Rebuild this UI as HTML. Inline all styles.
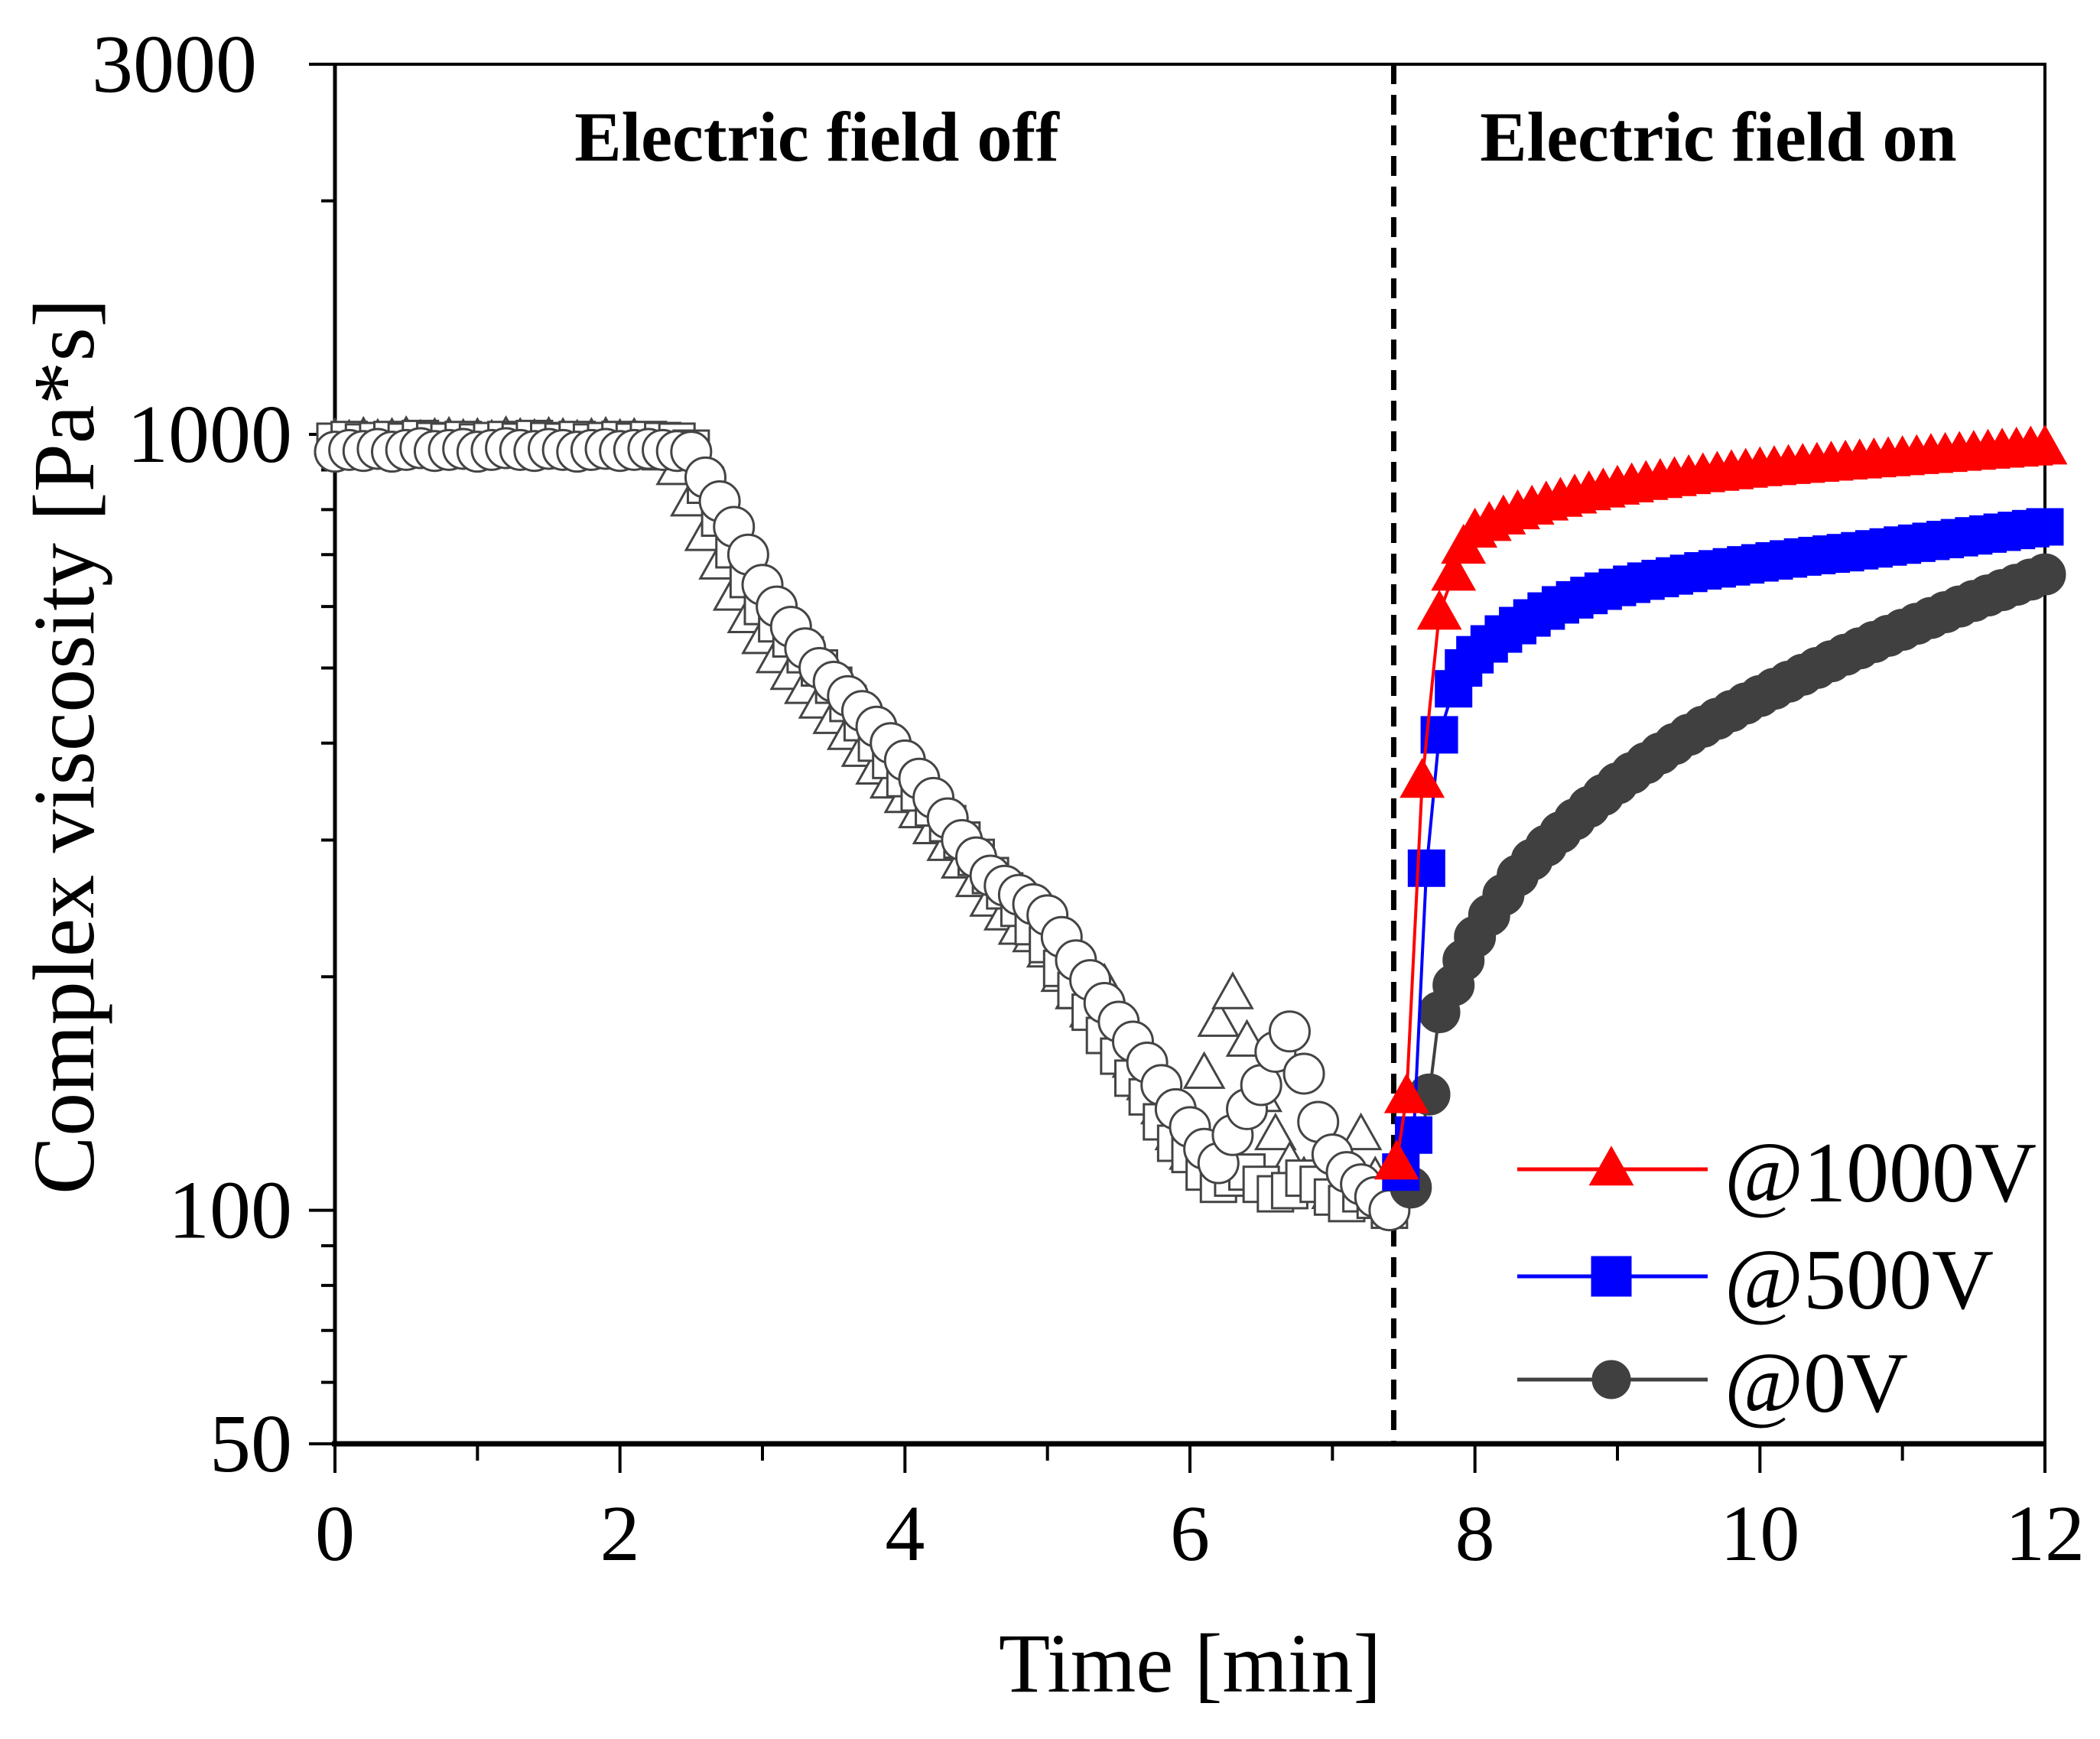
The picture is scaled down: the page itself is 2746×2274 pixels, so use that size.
<!DOCTYPE html>
<html><head><meta charset="utf-8"><style>
html,body{margin:0;padding:0;background:#fff}
svg{display:block}
text{font-family:"Liberation Serif",serif}
</style></head><body>
<svg id="chart" width="2746" height="2274" viewBox="0 0 2746 2274" xmlns="http://www.w3.org/2000/svg">
<rect width="2746" height="2274" fill="#fff"/>
<g id="axes"></g>
<g id="marks"></g>
<text x="1068" y="210" font-size="92" font-weight="bold" text-anchor="middle">Electric field off</text>
<text x="2247" y="210" font-size="92" font-weight="bold" text-anchor="middle">Electric field on</text>
<text x="1556" y="2212" font-size="110" text-anchor="middle">Time [min]</text>
<text x="0" y="0" font-size="114" text-anchor="middle" transform="translate(122,976) rotate(-90)">Complex viscosity [Pa*s]</text>
<g id="legend"></g>
</svg>
<script>
const offTimes = [];
for (let i = 0; i < 75; i++) offTimes.push(i / 10);
const offCircles = [950,955,952,958,950,955,960,952,955,958,950,955,960,955,952,958,955,950,955,958,952,955,958,955,952,
950,880,820,760,700,640,600,565,530,500,480,460,440,420,400,380,360,340,320,300,285,270,262,255,248,240,225,210,198,185,175,165,155,145,135,128,120,115,125,135,145,160,170,150,130,118,112,108,104,100];
const offTriangles = [985,980,988,982,985,990,980,985,988,982,985,980,990,985,982,988,985,980,985,988,982,985,975,940,900,
820,740,680,620,580,545,515,490,470,450,430,410,390,370,355,340,325,310,295,280,265,250,240,230,225,215,200,190,180,195,170,155,145,135,125,118,150,175,190,165,140,125,115,110,108,105,115,125,110,105];
const offSquares = [980,985,978,982,985,980,988,982,980,985,978,982,985,980,988,982,980,985,978,982,985,980,985,982,980,
960,860,780,710,650,600,570,545,520,500,475,450,425,400,380,360,345,330,315,300,285,270,258,245,232,220,205,192,180,168,158,148,140,130,122,118,112,108,110,112,108,105,106,110,108,104,102,105,103,100];

const onGrid = [];
for (let i = 0; i <= 40; i++) onGrid.push(8 + i / 10);
const redTimes = [7.45,7.52,7.63,7.75,7.85,7.92].concat(onGrid);
const redValues = [115,140,357,588,660,715,
750,765,780,792,803,813,822,830,838,845,852,858,864,869,874,879,884,888,892,896,900,903,906,909,912,915,918,921,924,927,930,933,936,939,942,945,948,951,954,957,960];
const blueTimes = [7.48,7.57,7.66,7.75,7.85,7.92].concat(onGrid);
const blueValues = [112,125,276,410,470,500,
520,537,553,567,580,592,603,612,620,628,635,641,647,652,657,662,667,671,675,679,683,687,691,695,698,701,704,708,712,716,720,724,728,732,736,740,744,748,752,756,760];
const grayTimes = [7.55,7.68,7.75,7.85,7.92].concat(onGrid);
const grayValues = [107,141,180,195,210,
225,240,255,270,283,295,307,319,331,343,355,366,377,388,399,410,420,430,440,450,460,470,480,490,500,510,520,530,540,550,560,570,580,590,600,610,620,630,640,650,660];

const xTicks = [0,2,4,6,8,10,12];
const yTicks = [50,100,1000,3000];
const fieldOnTime = 7.43;

const NS = "http://www.w3.org/2000/svg";
const L = 438, R = 2674, T = 84, B = 1888;
const X = t => L + (t / 12) * (R - L);
const Y = v => B - (Math.log10(v) - Math.log10(50)) / (Math.log10(3000) - Math.log10(50)) * (B - T);
function mk(tag, attrs, parent) {
  const e = document.createElementNS(NS, tag);
  for (const k in attrs) e.setAttribute(k, attrs[k]);
  parent.appendChild(e);
  return e;
}
const axes = document.getElementById('axes');
const marks = document.getElementById('marks');
const legend = document.getElementById('legend');

let fr = mk('rect', {x: L, y: T, width: R - L, height: B - T, fill: 'none', stroke: '#000', 'stroke-width': 4}, axes);


mk('line', {x1: L - 4, y1: B, x2: R, y2: B, stroke: '#000', 'stroke-width': 7}, axes);
mk('line', {x1: L, y1: T, x2: L, y2: B, stroke: '#000', 'stroke-width': 5}, axes);

for (let t = 0; t <= 12; t++) {
  const major = t % 2 === 0;
  mk('line', {x1: X(t), y1: B, x2: X(t), y2: B + (major ? 38 : 22), stroke: '#000', 'stroke-width': 4}, axes);
}
xTicks.forEach(t => {
  const tx = mk('text', {x: X(t), y: 2040, 'font-size': 104, 'text-anchor': 'middle'}, axes);
  tx.textContent = t;
  
  
});
const minorY = [60,70,80,90,200,300,400,500,600,700,800,900,2000];
minorY.forEach(v => mk('line', {x1: L - 18, y1: Y(v), x2: L, y2: Y(v), stroke: '#000', 'stroke-width': 4}, axes));
yTicks.forEach(v => {
  mk('line', {x1: L - 34, y1: Y(v), x2: L, y2: Y(v), stroke: '#000', 'stroke-width': 4}, axes);
  const tx = mk('text', {x: v === 3000 ? 336 : 382, y: Y(v) + 36, 'font-size': 108, 'text-anchor': 'end'}, axes);
  tx.textContent = v;
  
  
});

let dl = mk('line', {x1: X(fieldOnTime), y1: T, x2: X(fieldOnTime), y2: B, stroke: '#000', 'stroke-width': 7, 'stroke-dasharray': '26 14'}, axes);



function marker(shape, cx, cy, fill, stroke, sw, parent, s) {
  let e;
  if (shape === 'circle') e = mk('circle', {cx, cy, r: s, fill, stroke, 'stroke-width': sw}, parent);
  else if (shape === 'square') e = mk('rect', {x: cx - s, y: cy - s, width: 2 * s, height: 2 * s, fill, stroke, 'stroke-width': sw}, parent);
  else e = mk('polygon', {points: `${cx},${cy - s * 1.15} ${cx - s * 1.1},${cy + s * 0.8} ${cx + s * 1.1},${cy + s * 0.8}`, fill, stroke, 'stroke-width': sw}, parent);
  return e;
}

[['triangle', offTriangles], ['square', offSquares], ['circle', offCircles]].forEach(([shape, vals]) => {
  const g = mk('g', {}, marks);
  
  
  vals.forEach((v, i) => {
    const m = marker(shape, X(offTimes[i]), Y(v), '#fff', '#444', 3, g, shape === 'circle' ? 26 : 23);
    
    
  });
});

const onSeries = [
  ['series-0v', grayTimes, grayValues, '#404040', 'circle', 27],
  ['series-500v', blueTimes, blueValues, '#0000ff', 'square', 24],
  ['series-1000v', redTimes, redValues, '#ff0000', 'triangle', 26]
];
onSeries.forEach(([name, ts, vs, col, shape, s]) => {
  const g = mk('g', {}, marks);
  
  
  const pts = ts.map((t, i) => X(t) + ',' + Y(vs[i])).join(' ');
  const pl = mk('polyline', {points: pts, fill: 'none', stroke: col, 'stroke-width': 4}, g);
  
  
  ts.forEach((t, i) => {
    const m = marker(shape, X(t), Y(vs[i]), col, col, 1, g, s);
    
    
  });
});

const legendItems = [['@1000V', '#ff0000', 'triangle', 1529], ['@500V', '#0000ff', 'square', 1669], ['@0V', '#404040', 'circle', 1804]];
legendItems.forEach(([label, col, shape, y]) => {
  const g = mk('g', {}, legend);
  
  
  mk('line', {x1: 1984, y1: y, x2: 2233, y2: y, stroke: col, 'stroke-width': 5}, g);
  marker(shape, 2107, y, col, col, 1, g, shape === 'circle' ? 25 : 26);
  const tx = mk('text', {x: 2255, y: y + 42, 'font-size': 112, fill: '#000'}, g);
  tx.textContent = label;
});
</script>
</body></html>
